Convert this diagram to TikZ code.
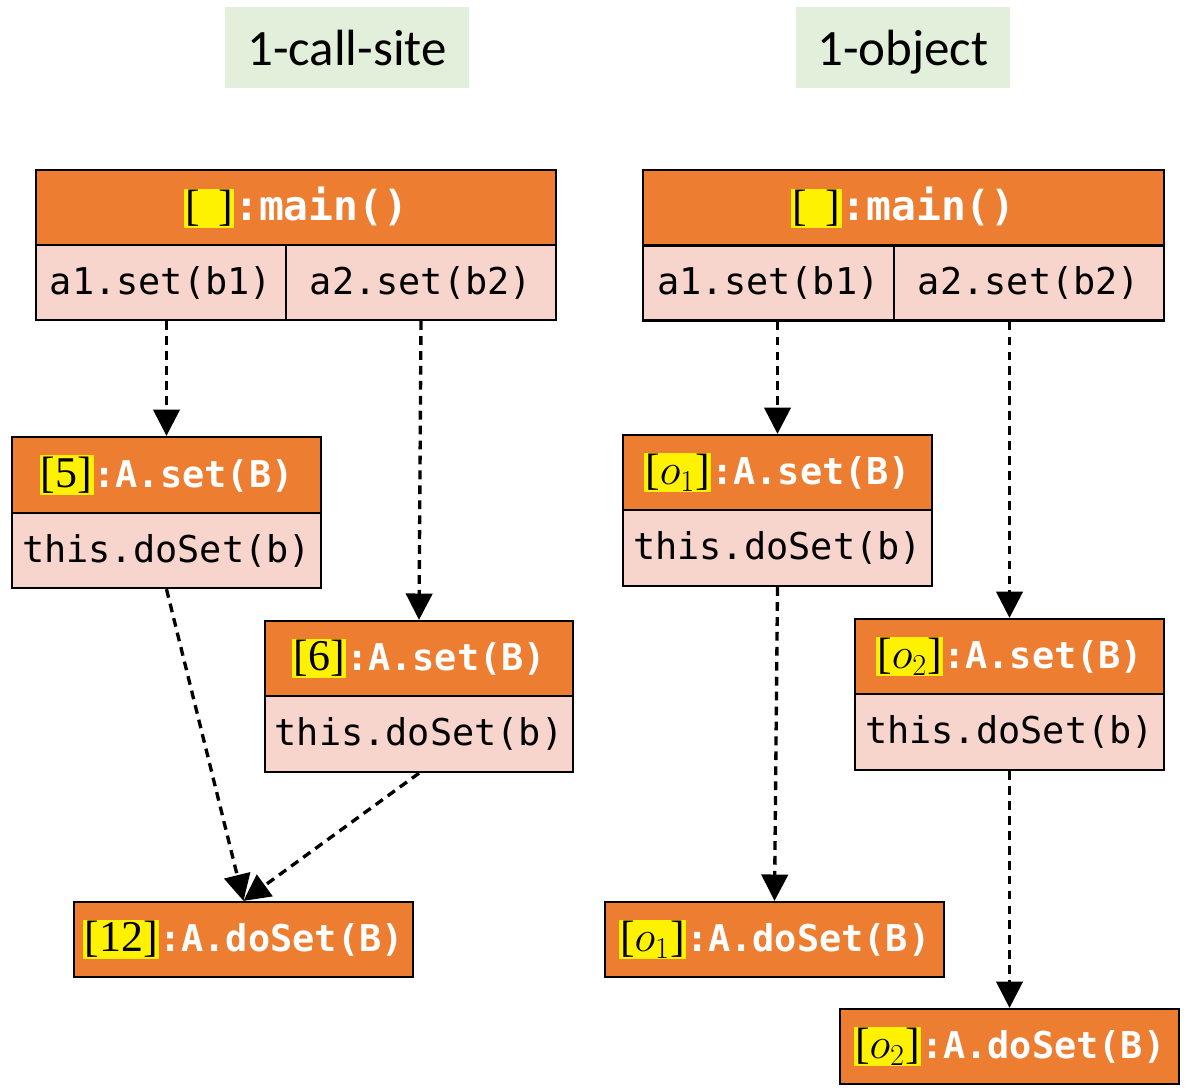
\documentclass[tikz,border=0pt]{standalone}
\usepackage{fontspec}
\setmonofont{DejaVu Sans Mono}
\newfontfamily\titlefont{Carlito}
\newfontfamily\ctxfont{Liberation Serif}
\usetikzlibrary{arrows.meta}
\definecolor{boxorange}{HTML}{ED7D31}
\definecolor{boxpink}{HTML}{F8D5CC}
\definecolor{titlegreen}{HTML}{E2EFDA}
\newcommand{\ctx}[1]{{\setlength{\fboxsep}{0.8pt}\colorbox{yellow}{\ctxfont\mdseries\fontsize{25}{29}\selectfont\color{black}#1}}}

\begin{document}
\begin{tikzpicture}[x=0.02cm,y=-0.02cm,
	title/.style={fill=titlegreen,minimum height=1.62cm,text height=26pt,text depth=6pt,font=\titlefont\fontsize{29}{34}\selectfont},
	head/.style={draw,line width=1.3pt,fill=boxorange,text=white,minimum height=1.5cm,inner sep=2pt,font=\ttfamily\bfseries\fontsize{21}{25}\selectfont},
	cell/.style={draw,line width=1.3pt,fill=boxpink,minimum height=1.5cm,inner sep=2pt,font=\ttfamily\fontsize{21}{25}\selectfont},
	call/.style={-{Triangle[length=15pt,width=15pt]},line width=1.9pt,dash pattern=on 5pt off 3.5pt}]
			\useasboundingbox (0,0) rectangle (1185,1089);
			% titles
			\node (tcs) [title,minimum width=4.88cm,at={(347,47.5)}] {1-call-site};
			\node (tobj) [title,minimum width=4.28cm,at={(903,47.5)}] {1-object};
			% 1-call-site
			\node (mainl) [head,minimum width=10.4cm,at={(296,207.5)},font=\ttfamily\bfseries\fontsize{23.5}{28}\selectfont] {\ctx{[\ \,]}:main()};
			\node (aonel) [cell,minimum width=5cm,at={(161,282.5)}] {a1.set(b1)};
			\node (atwol) [cell,minimum width=5.4cm,at={(421,282.5)}] {a2.set(b2)};
			\node (fiveh) [head,minimum width=6.18cm,minimum height=1.52cm,at={(166.5,475)}] {\ctx{[5]}:A.set(B)};
			\node (fiver) [cell,minimum width=6.18cm,at={(166.5,550.5)}] {this.doSet(b)};
			\node (sixh) [head,minimum width=6.16cm,at={(419,658.5)}] {\ctx{[6]}:A.set(B)};
			\node (sixr) [cell,minimum width=6.16cm,minimum height=1.52cm,at={(419,734)}] {this.doSet(b)};
			\node (twelve) [head,minimum width=6.78cm,at={(243.5,939.5)}] {\ctx{[12]}:A.doSet(B)};
			\draw[call] (fiveh.north |- aonel.south) -- (fiveh.north);
			\draw[call] (atwol.south) -- (sixh.north);
			\draw[call] (fiver.south) -- (twelve.north);
			\draw[call] (sixr.south) -- (twelve.north);
			% 1-object
			\node (mainr) [head,minimum width=10.42cm,at={(903.5,207.5)},font=\ttfamily\bfseries\fontsize{23.5}{28}\selectfont] {\ctx{[\ \,]}:main()};
			\node (aoner) [cell,minimum width=5.02cm,at={(768.5,283)}] {a1.set(b1)};
			\node (atwor) [cell,minimum width=5.4cm,at={(1029,283)}] {a2.set(b2)};
			\node (oneh) [head,minimum width=6.18cm,at={(777.5,472.5)}] {\ctx{[$o_1$]}:A.set(B)};
			\node (oner) [cell,minimum width=6.18cm,minimum height=1.52cm,at={(777.5,548)}] {this.doSet(b)};
			\node (twoh) [head,minimum width=6.18cm,at={(1009.5,656.5)}] {\ctx{[$o_2$]}:A.set(B)};
			\node (twor) [cell,minimum width=6.18cm,minimum height=1.52cm,at={(1009.5,732)}] {this.doSet(b)};
			\node (onedo) [head,minimum width=6.78cm,at={(774.5,939.5)}] {\ctx{[$o_1$]}:A.doSet(B)};
			\node (twodo) [head,minimum width=6.78cm,at={(1009.5,1046.5)}] {\ctx{[$o_2$]}:A.doSet(B)};
			\draw[call] (oneh.north |- aoner.south) -- (oneh.north);
			\draw[call] (twoh.north |- atwor.south) -- (twoh.north);
			\draw[call] (oner.south) -- (onedo.north);
			\draw[call] (twor.south) -- (twodo.north);
			\end{tikzpicture}
\end{document}
